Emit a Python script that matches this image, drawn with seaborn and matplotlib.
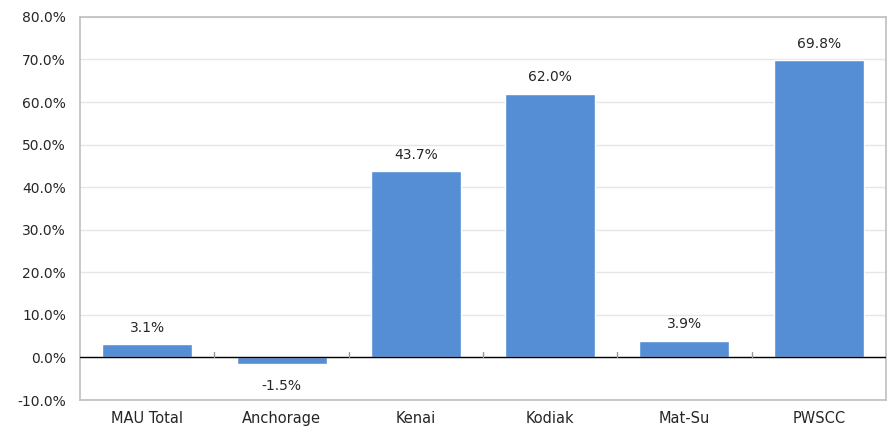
import numpy as np
import pandas as pd
import matplotlib
matplotlib.use("Agg")
import matplotlib.pyplot as plt
import seaborn as sns
from matplotlib.ticker import FuncFormatter, FixedLocator

# data
regions = ["MAU Total", "Anchorage", "Kenai", "Kodiak", "Mat-Su", "PWSCC"]
pct_change = [3.1, -1.5, 43.7, 62.0, 3.9, 69.8]
y_ticks = [-10, 0, 10, 20, 30, 40, 50, 60, 70, 80]

df = pd.DataFrame({"region": regions, "change": pct_change})

sns.set_style("white")
plt.rcParams["font.family"] = ["DejaVu Sans"]

fig = plt.figure(figsize=(8.9, 4.34), dpi=100)
ax = fig.add_axes([0.0899, 0.0783, 0.9056, 0.8827])

sns.barplot(data=df, x="region", y="change", color="#558ED5", width=0.67,
            saturation=1, ax=ax, zorder=3)

ax.set_ylim(-10, 80)
ax.set_xlim(-0.5, len(regions) - 0.5)
ax.yaxis.set_major_locator(FixedLocator(y_ticks))
ax.yaxis.set_major_formatter(FuncFormatter(lambda v, p: "%.1f%%" % v))
ax.grid(axis="y", color="#E6E6E6", linewidth=1, zorder=0)
ax.axhline(0, color="black", linewidth=1, zorder=4)

# little tick marks on the zero line between categories
for b in np.arange(0.5, len(regions) - 0.5, 1):
    ax.plot([b, b], [0, 1.2], color="#999999", linewidth=1, zorder=4)

for s in ax.spines.values():
    s.set_color("#BFBFBF")
    s.set_linewidth(1.2)

ax.set_xlabel("")
ax.set_ylabel("")
ax.tick_params(axis="both", length=0, labelsize=10, colors="#262626")
ax.tick_params(axis="x", pad=8, labelsize=10.5)
ax.tick_params(axis="y", pad=10)

for i, v in enumerate(pct_change):
    if v >= 0:
        ax.text(i, v + 2.2, "%.1f%%" % v, ha="center", va="bottom",
                fontsize=10, color="#262626")
    else:
        ax.text(i, v - 3.6, "%.1f%%" % v, ha="center", va="top",
                fontsize=10, color="#262626")

fig.savefig("out.png", dpi=100)
